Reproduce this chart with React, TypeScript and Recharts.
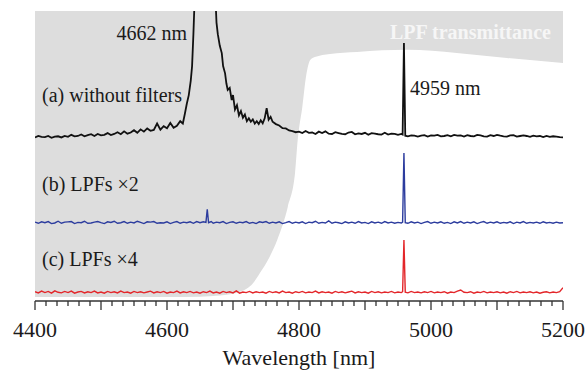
import { ComposedChart, Line, Area, XAxis, YAxis, CartesianGrid } from "recharts";

// wavelength [nm], stacked intensity (arb. units, offset per trace)
const spectrumA: [number, number][] = [
  [4400, 56.4], [4405, 56.9], [4410, 56.6], [4415, 56.5], [4420, 56.9], [4425, 56.3], [4430, 56.7], [4435, 56.8],
  [4440, 56.4], [4445, 56.9], [4450, 56.6], [4455, 57.3], [4460, 56.8], [4465, 56.9], [4470, 57.4], [4475, 56.8],
  [4480, 57.2], [4485, 57.5], [4490, 56.9], [4495, 57.6], [4500, 57.1], [4505, 57.3], [4510, 57.9], [4515, 57.2],
  [4520, 57.6], [4525, 58.2], [4530, 57.5], [4535, 58.5], [4540, 57.7], [4545, 58.1], [4550, 58.9], [4555, 58.0],
  [4560, 59.2], [4565, 58.4], [4570, 59.5], [4575, 58.7], [4580, 59.0], [4585, 61.2], [4590, 59.1], [4595, 60.3],
  [4600, 59.6], [4605, 61.4], [4610, 59.7], [4615, 60.4], [4620, 62.0], [4624, 61.2], [4627, 64.5], [4630, 68.0],
  [4633, 71.0], [4636, 76.0], [4638, 81.0], [4640, 92.0], [4642, 105], [4648, 135], [4655, 160], [4662, 175],
  [4668, 150], [4672, 112], [4675, 96], [4677, 92], [4680, 88], [4683, 85.5], [4685, 81.0], [4688, 78.5],
  [4690, 75.0], [4692, 72.8], [4695, 73.5], [4698, 69.3], [4700, 71.0], [4703, 66.0], [4706, 67.5], [4709, 64.0],
  [4712, 65.5], [4715, 63.2], [4718, 64.3], [4721, 62.0], [4724, 63.0], [4727, 61.8], [4730, 62.6], [4733, 61.2],
  [4736, 62.0], [4739, 61.0], [4742, 62.3], [4745, 61.3], [4748, 63.0], [4751, 66.5], [4754, 62.5], [4757, 63.5],
  [4760, 61.8], [4765, 61.0], [4770, 60.5], [4775, 59.6], [4780, 59.5], [4785, 58.8], [4790, 58.6], [4795, 58.2],
  [4800, 58.4], [4805, 57.9], [4810, 58.6], [4815, 58.0], [4820, 58.1], [4825, 57.6], [4830, 58.4], [4835, 57.9],
  [4840, 58.5], [4845, 57.7], [4850, 57.6], [4855, 58.2], [4860, 57.9], [4865, 57.6], [4870, 57.5], [4875, 58.1],
  [4880, 58.3], [4885, 57.5], [4890, 57.8], [4895, 57.6], [4900, 58.0], [4905, 57.3], [4910, 57.9], [4915, 57.7],
  [4920, 57.5], [4925, 57.4], [4930, 58.0], [4935, 57.4], [4940, 57.7], [4945, 57.6], [4950, 57.3], [4955, 57.6],
  [4957, 57.4], [4959, 89.0], [4961, 57.0], [4965, 56.8], [4970, 57.1], [4975, 57.0], [4980, 56.7], [4985, 57.0],
  [4990, 57.2], [4995, 56.7], [5000, 57.1], [5005, 57.0], [5010, 57.3], [5015, 56.8], [5020, 56.9], [5025, 57.2],
  [5030, 56.8], [5035, 57.3], [5040, 57.0], [5045, 57.1], [5050, 56.7], [5055, 57.2], [5060, 56.9], [5065, 56.8],
  [5070, 57.3], [5075, 57.1], [5080, 56.8], [5085, 56.7], [5090, 57.2], [5095, 56.9], [5100, 57.3], [5105, 57.0],
  [5110, 56.8], [5115, 56.7], [5120, 57.1], [5125, 57.2], [5130, 56.7], [5135, 56.9], [5140, 57.1], [5145, 56.9],
  [5150, 56.6], [5155, 57.0], [5160, 56.8], [5165, 56.9], [5170, 56.5], [5175, 56.9], [5180, 56.6], [5185, 56.8],
  [5190, 56.7], [5195, 56.5], [5200, 56.4],
];

const spectrumB: [number, number][] = [
  [4400, 27.2], [4405, 26.8], [4410, 27.3], [4415, 27.0], [4420, 27.4], [4425, 26.7], [4430, 26.9], [4435, 27.5],
  [4440, 26.8], [4445, 27.2], [4450, 27.3], [4455, 27.4], [4460, 26.7], [4465, 27.1], [4470, 27.0], [4475, 27.5],
  [4480, 26.8], [4485, 26.9], [4490, 27.2], [4495, 27.4], [4500, 27.0], [4505, 26.7], [4510, 27.3], [4515, 27.1],
  [4520, 27.5], [4525, 26.8], [4530, 27.0], [4535, 27.4], [4540, 26.8], [4545, 27.2], [4550, 26.9], [4555, 27.5],
  [4560, 27.1], [4565, 26.7], [4570, 27.3], [4575, 27.2], [4580, 27.4], [4585, 26.8], [4590, 27.0], [4595, 26.9],
  [4600, 27.3], [4605, 26.7], [4610, 27.1], [4615, 27.4], [4620, 26.8], [4625, 27.2], [4630, 27.0], [4635, 27.3],
  [4640, 26.8], [4645, 27.4], [4650, 27.0], [4655, 27.3], [4659, 27.1], [4661, 31.6], [4663, 27.0], [4667, 27.4],
  [4670, 26.8], [4675, 27.2], [4680, 27.0], [4685, 27.4], [4690, 26.7], [4695, 27.1], [4700, 27.3], [4705, 26.8],
  [4710, 27.2], [4715, 27.0], [4720, 27.4], [4725, 26.8], [4730, 27.1], [4735, 26.7], [4740, 27.3], [4745, 27.1],
  [4750, 27.4], [4755, 26.8], [4760, 27.2], [4765, 26.9], [4770, 27.3], [4775, 26.7], [4780, 27.0], [4785, 27.4],
  [4790, 26.8], [4795, 27.2], [4800, 26.9], [4805, 27.3], [4810, 26.7], [4815, 27.2], [4820, 27.0], [4825, 27.5],
  [4830, 26.8], [4835, 27.1], [4840, 26.9], [4845, 27.6], [4850, 26.8], [4855, 27.2], [4860, 27.0], [4865, 26.7],
  [4870, 27.3], [4875, 26.9], [4880, 27.2], [4885, 26.8], [4890, 27.4], [4895, 26.9], [4900, 27.1], [4905, 26.7],
  [4910, 27.3], [4915, 26.9], [4920, 27.2], [4925, 26.8], [4930, 27.4], [4935, 26.9], [4940, 27.2], [4945, 26.8],
  [4950, 27.1], [4955, 26.9], [4957, 27.2], [4959, 51.0], [4961, 27.0], [4965, 26.8], [4970, 27.3], [4975, 26.9],
  [4980, 27.2], [4985, 26.7], [4990, 27.1], [4995, 27.4], [5000, 26.8], [5005, 27.2], [5010, 26.9], [5015, 27.3],
  [5020, 26.8], [5025, 27.1], [5030, 26.7], [5035, 27.3], [5040, 26.9], [5045, 27.4], [5050, 26.8], [5055, 27.2],
  [5060, 26.9], [5065, 27.3], [5070, 26.7], [5075, 27.1], [5080, 27.4], [5085, 26.8], [5090, 27.2], [5095, 26.9],
  [5100, 27.3], [5105, 26.8], [5110, 27.1], [5115, 26.9], [5120, 27.3], [5125, 26.7], [5130, 27.2], [5135, 26.9],
  [5140, 27.4], [5145, 26.8], [5150, 27.1], [5155, 26.9], [5160, 27.2], [5165, 26.8], [5170, 27.3], [5175, 26.9],
  [5180, 27.1], [5185, 26.8], [5190, 27.2], [5195, 26.9], [5200, 27.0],
];

const spectrumC: [number, number][] = [
  [4400, 3.2], [4405, 2.8], [4410, 3.4], [4415, 2.9], [4420, 3.3], [4425, 2.7], [4430, 3.5], [4435, 3.0],
  [4440, 2.8], [4445, 3.3], [4450, 2.9], [4455, 3.4], [4460, 2.7], [4465, 3.1], [4470, 3.3], [4475, 2.8],
  [4480, 3.2], [4485, 2.9], [4490, 3.4], [4495, 2.8], [4500, 3.1], [4505, 2.7], [4510, 3.3], [4515, 2.9],
  [4520, 3.2], [4525, 2.8], [4530, 3.4], [4535, 2.9], [4540, 3.1], [4545, 2.7], [4550, 3.3], [4555, 2.9],
  [4560, 3.2], [4565, 2.8], [4570, 3.1], [4575, 3.4], [4580, 2.8], [4585, 3.2], [4590, 2.9], [4595, 3.3],
  [4600, 2.7], [4605, 3.1], [4610, 2.9], [4615, 3.4], [4620, 2.8], [4625, 3.2], [4630, 2.9], [4635, 3.3],
  [4640, 2.8], [4645, 3.1], [4650, 2.7], [4655, 3.2], [4660, 2.9], [4665, 3.4], [4670, 2.8], [4675, 3.1],
  [4680, 2.7], [4685, 3.3], [4690, 2.9], [4695, 3.2], [4700, 2.8], [4705, 3.5], [4710, 2.7], [4715, 3.1],
  [4720, 2.9], [4725, 3.3], [4730, 2.8], [4735, 3.2], [4740, 2.9], [4745, 3.1], [4750, 2.7], [4755, 3.3],
  [4760, 2.9], [4765, 3.2], [4770, 2.8], [4775, 3.4], [4780, 2.9], [4785, 3.1], [4790, 2.7], [4795, 3.2],
  [4800, 2.9], [4805, 3.3], [4810, 2.8], [4815, 3.1], [4820, 2.9], [4825, 3.4], [4830, 2.8], [4835, 3.2],
  [4840, 2.9], [4845, 3.1], [4850, 2.7], [4855, 3.3], [4860, 2.9], [4865, 3.2], [4870, 2.8], [4875, 3.1],
  [4880, 3.4], [4885, 2.8], [4890, 3.2], [4895, 2.9], [4900, 3.1], [4905, 2.7], [4910, 3.3], [4915, 2.9],
  [4920, 3.2], [4925, 2.8], [4930, 3.1], [4935, 2.9], [4940, 3.3], [4945, 2.8], [4950, 3.1], [4955, 2.9],
  [4957, 3.2], [4959, 21.0], [4961, 3.0], [4965, 2.8], [4970, 3.3], [4975, 2.9], [4980, 3.1], [4985, 2.8],
  [4990, 3.2], [4995, 2.9], [5000, 3.3], [5005, 2.8], [5010, 3.1], [5015, 2.9], [5020, 3.2], [5025, 2.7],
  [5030, 3.1], [5035, 2.9], [5040, 3.4], [5045, 3.8], [5050, 3.0], [5055, 2.9], [5060, 3.2], [5065, 2.7],
  [5070, 3.1], [5075, 2.9], [5080, 3.3], [5085, 2.8], [5090, 3.1], [5095, 2.9], [5100, 3.2], [5105, 2.8],
  [5110, 3.1], [5115, 2.7], [5120, 3.2], [5125, 2.9], [5130, 3.3], [5135, 2.8], [5140, 3.1], [5145, 2.9],
  [5150, 3.2], [5155, 2.8], [5160, 3.1], [5165, 2.7], [5170, 3.0], [5175, 3.2], [5180, 2.8], [5185, 3.1],
  [5190, 2.9], [5195, 3.2], [5200, 4.6],
];

// long-pass filter transmittance, same y units (white region)
const lpfTransmittance: [number, number][] = [
  [4400, 1.4], [4500, 1.4], [4600, 1.4], [4650, 1.5], [4680, 1.9], [4711, 3.2], [4730, 6.0], [4741, 9.7],
  [4755, 15.0], [4767, 21.0], [4783, 32.4], [4794, 44.1], [4798, 55.5], [4805, 66.9], [4811, 77.9], [4817, 83.1],
  [4824, 84.1], [4847, 85.2], [4888, 85.9], [4964, 86.6], [5039, 85.5], [5115, 83.8], [5200, 82.1],
];

const tickLabels = [4400, 4600, 4800, 5000, 5200];
const minorTicks = Array.from({ length: 49 }, (_, i) => 4400 + (i * 100) / 6);

const toRows = (pts: [number, number][]) => pts.map(([wl, v]) => ({ wl, v }));

const FONT = "'Liberation Serif', 'DejaVu Serif', serif";

function AxisTick(props: any) {
  const { x, y, payload } = props;
  const v = payload.value as number;
  const major = Math.abs(v / 100 - Math.round(v / 100)) < 1e-6;
  const label = tickLabels.find((t) => Math.abs(t - v) < 1e-6);
  return (
    <g>
      <line x1={x} x2={x} y1={y} y2={y + (major ? 9 : 5)} stroke="#333" strokeWidth={1.3} />
      {label !== undefined && (
        <text x={x} y={y + 36} textAnchor="middle" fontSize={22} fontFamily={FONT} fill="#1a1a1a">
          {label}
        </text>
      )}
    </g>
  );
}

export default function App() {
  return (
    <div style={{ position: "relative", width: 588, height: 372 }}>
      <style>{"body{margin:0}"}</style>
      <ComposedChart width={588} height={372} margin={{ top: 11, right: 25, left: 35, bottom: 0 }}>
        <CartesianGrid fill="#dddddd" stroke="none" horizontal={false} vertical={false} />
        <XAxis
          type="number"
          dataKey="wl"
          domain={[4400, 5200]}
          ticks={minorTicks}
          interval={0}
          height={71}
          tickSize={0}
          tickMargin={0}
          tickLine={false}
          tick={<AxisTick />}
          axisLine={{ stroke: "#333", strokeWidth: 1.3 }}
          allowDataOverflow
        />
        <YAxis type="number" domain={[0, 100]} hide allowDataOverflow />
        <Area
          data={toRows(lpfTransmittance)}
          dataKey="v"
          type="monotone"
          fill="#ffffff"
          fillOpacity={1}
          stroke="none"
          isAnimationActive={false}
          activeDot={false}
        />
        <Line data={toRows(spectrumA)} dataKey="v" type="linear" stroke="#111111" strokeWidth={1.8} dot={false} activeDot={false} isAnimationActive={false} />
        <Line data={toRows(spectrumB)} dataKey="v" type="linear" stroke="#2c3c9e" strokeWidth={1.4} dot={false} activeDot={false} isAnimationActive={false} />
        <Line data={toRows(spectrumC)} dataKey="v" type="linear" stroke="#e3262a" strokeWidth={1.4} dot={false} activeDot={false} isAnimationActive={false} />
      </ComposedChart>
      <svg width={588} height={372} style={{ position: "absolute", left: 0, top: 0, pointerEvents: "none" }} fontFamily={FONT}>
        <text x={390} y={39} fontSize={20} fontWeight="bold" fill="#f6f6f6">LPF transmittance</text>
        <text x={187} y={40} fontSize={20} textAnchor="end" fill="#1a1a1a">4662 nm</text>
        <text x={42} y={102} fontSize={20} fill="#1a1a1a">(a) without filters</text>
        <text x={410} y={95} fontSize={20} fill="#1a1a1a">4959 nm</text>
        <text x={42} y={191} fontSize={20} fill="#1a1a1a">(b) LPFs ×2</text>
        <text x={42} y={266} fontSize={20} fill="#1a1a1a">(c) LPFs ×4</text>
        <text x={299} y={365} fontSize={22} textAnchor="middle" fill="#1a1a1a">Wavelength [nm]</text>
      </svg>
    </div>
  );
}
